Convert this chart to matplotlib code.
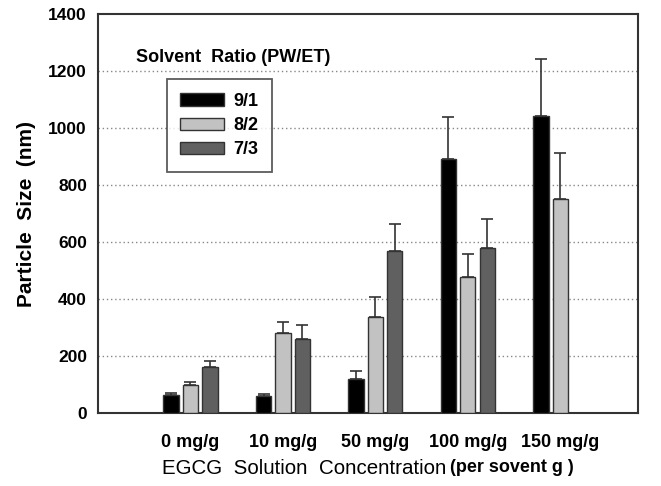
import matplotlib
matplotlib.use("Agg")
import matplotlib.pyplot as plt
import numpy as np

plt.rcParams["font.family"] = ["Liberation Sans", "DejaVu Sans"]

# Data
concentrations = ["0 mg/g", "10 mg/g", "50 mg/g", "100 mg/g", "150 mg/g"]
ratios = ["9/1", "8/2", "7/3"]
size_91 = [63, 60, 119, 890, 1042]
size_82 = [100, 280, 338, 478, 750]
size_73 = [162, 258, 568, 578, np.nan]
err_91 = [8, 7, 28, 150, 200]
err_82 = [8, 39, 70, 80, 161]
err_73 = [20, 50, 95, 102, np.nan]

COLORS = ["#000000", "#c2c2c2", "#606060"]
EDGE = "#333333"

fig = plt.figure(figsize=(6.61, 4.86), dpi=100)
ax = fig.add_axes([98 / 661, 1 - 413 / 486, (638 - 98) / 661, (413 - 14) / 486])

x = np.arange(len(concentrations))
width = 0.165
step = 0.21
series = [(size_91, err_91), (size_82, err_82), (size_73, err_73)]
for i, ((vals, errs), label) in enumerate(zip(series, ratios)):
    vals = np.array(vals, dtype=float)
    errs = np.array(errs, dtype=float)
    pos = x + (i - 1) * step
    ok = ~np.isnan(vals)
    ax.bar(pos[ok], vals[ok], width, color=COLORS[i], edgecolor=EDGE, lw=1.0,
           label=label, zorder=3)
    ax.errorbar(pos[ok], vals[ok], yerr=[np.zeros(ok.sum()), errs[ok]], fmt="none",
                ecolor=EDGE, elinewidth=1.2, capsize=4.6, capthick=1.2, zorder=2)

ax.set_xlim(-1.0, 4.84)
ax.set_ylim(0, 1400)
ax.set_yticks(range(0, 1401, 200))
ax.set_xticks(x)
ax.set_xticklabels(concentrations, fontsize=13, fontweight="bold")
for lab in ax.get_yticklabels():
    lab.set_fontsize(12.5)
    lab.set_fontweight("bold")
ax.tick_params(axis="y", length=0, pad=8)
ax.tick_params(axis="x", length=0, pad=15)
for y in range(200, 1400, 200):
    ax.axhline(y, color="#888888", lw=1.0, ls=(0, (1, 2)), zorder=1)
for s in ax.spines.values():
    s.set_color("#333333")
    s.set_linewidth(1.5)

ax.set_ylabel("Particle  Size  (nm)", fontsize=15, fontweight="bold", labelpad=9)
fig.text(446 / 661, 1 - 468 / 486, "EGCG  Solution  Concentration", fontsize=14.8,
         ha="right", va="center")
fig.text(450 / 661, 1 - 468 / 486, "(per sovent g )", fontsize=13, fontweight="bold",
         ha="left", va="center")

ax.text(0.07, 0.892, "Solvent  Ratio (PW/ET)", transform=ax.transAxes, fontsize=13,
        fontweight="bold", va="center")
leg = ax.legend(loc="upper left", bbox_to_anchor=((166.7 - 98) / 540, (413 - 79.3) / 399),
                prop={"weight": "bold", "size": 13}, handlelength=2.43, handleheight=0.67,
                frameon=True, fancybox=False, borderpad=0.75, labelspacing=0.4,
                handletextpad=0.52, borderaxespad=0)
leg.get_frame().set_edgecolor("#333333")
leg.get_frame().set_linewidth(1.3)

fig.savefig("out.png", dpi=100)
